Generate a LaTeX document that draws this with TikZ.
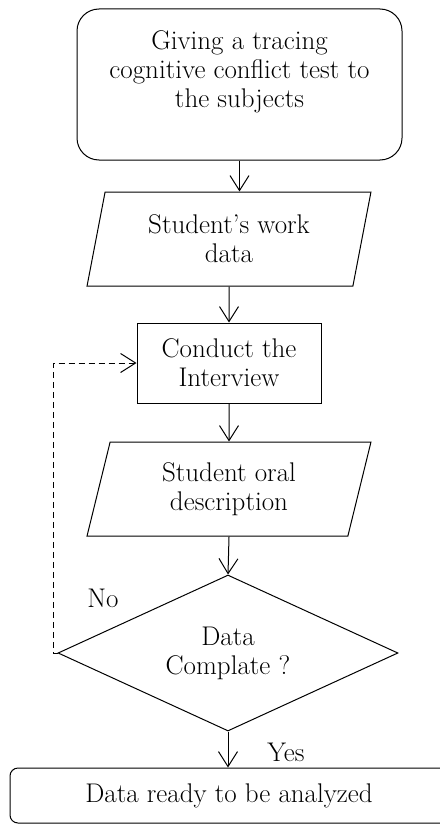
\documentclass[tikz,border=0pt]{standalone}
\usepackage{xcolor}
\usepackage{tikz}
\usetikzlibrary{arrows.meta,shapes.geometric}

\tikzset{
  flowtext/.style={font=\fontsize{27}{29}\selectfont, align=center},
  startbox/.style={draw, line width=1pt, rounded corners=22pt, minimum width=325pt, minimum height=151pt, inner sep=0pt},
  databox/.style={draw, line width=1pt, trapezium, trapezium left angle=76.25, trapezium right angle=103.75,
    trapezium stretches=true, minimum width=284pt, minimum height=94pt, inner sep=0pt, flowtext},
  processbox/.style={draw, line width=1pt, minimum width=184pt, minimum height=80pt, inner sep=0pt, flowtext},
  decisionbox/.style={draw, line width=1pt, diamond, shape aspect=2.18, minimum width=340pt, minimum height=156pt, inner sep=0pt, flowtext},
  endbox/.style={draw, line width=1pt, rounded corners=8pt, minimum width=438pt, minimum height=55pt, inner sep=0pt, flowtext},
  flowarrow/.style={line width=1pt, -{Straight Barb[length=15pt,width=19pt,line width=1pt]}},
}

\begin{document}
\begin{tikzpicture}[x=1pt,y=-1pt]
\useasboundingbox (0,0) rectangle (439,824);
\node[startbox] (test) at (239.5,84.5) {};
\node[flowtext] (testtext) at ([yshift=12.5pt]test.center) {Giving a tracing\\cognitive conflict test to\\the subjects};
\node[databox] (work) at (229,239) {Student’s work\\data};
\node[processbox] (interview) at (229,363) {Conduct the\\Interview};
\node[databox] (oral) at (229,489) {Student oral\\description};
\node[decisionbox] (check) at (228,653) {Data\\Complate ?};
\node[endbox] (ready) at (229,795.5) {Data ready to be analyzed};
\node[flowtext] (no) at (103,598) {No};
\node[flowtext] (yes) at (286,752) {Yes};
\coordinate (loop) at (53,363);

\draw[flowarrow] (test.south) -- (test.south |- work.north);
\draw[flowarrow] (work.south) -- (interview.north);
\draw[flowarrow] (interview.south) -- (oral.north);
\draw[flowarrow] (oral.south) -- (check.north);
\draw[flowarrow] (check.south) -- (ready.north -| check.south);
\draw[flowarrow, dashed, dash pattern=on 6pt off 4pt] (check.west) -- (check.west -| loop) -- (loop) -- (interview.west);
\end{tikzpicture}
\end{document}
